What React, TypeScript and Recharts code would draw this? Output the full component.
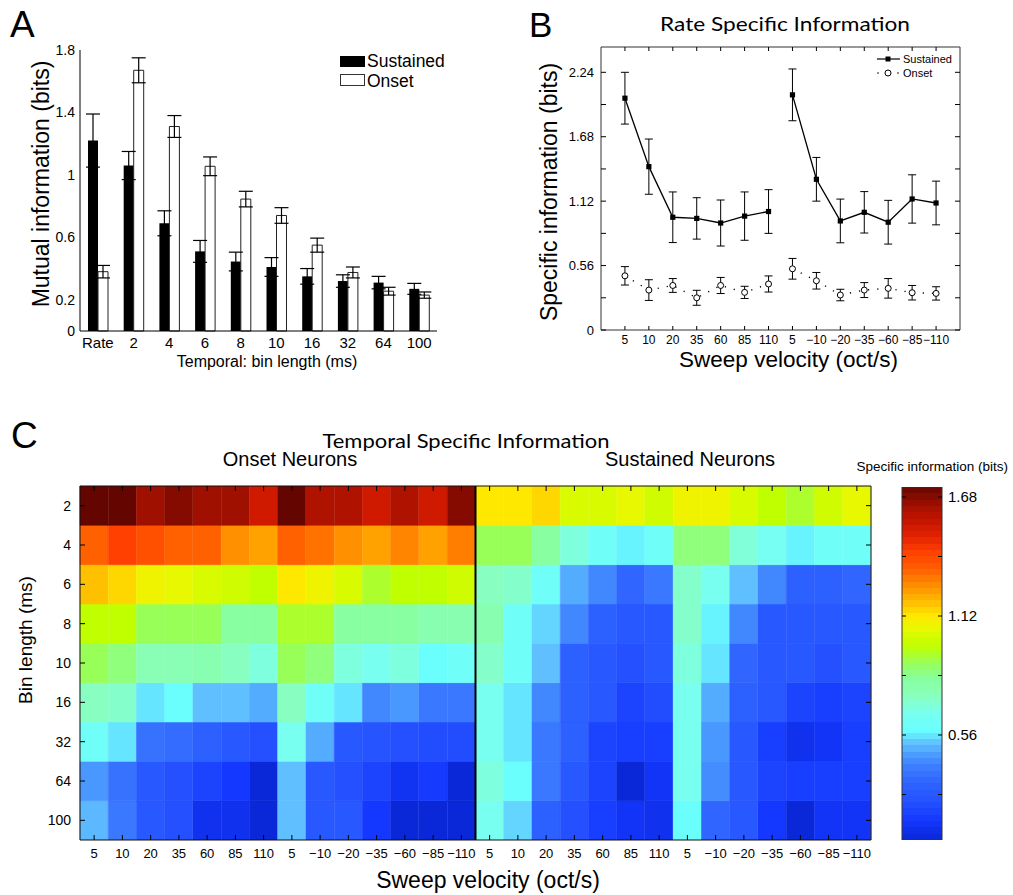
import React from 'react';
import {
  BarChart, Bar, XAxis, YAxis, ErrorBar, LineChart, Line,
  ReferenceArea, ReferenceLine, Cell,
} from 'recharts';

const FONT = '"Liberation Sans", Arial, Helvetica, sans-serif';
const TITLE_FONT = 'Lato, "Open Sans", sans-serif';

// ---------------- Panel A: mutual information ----------------
const binCategories = ['Rate', '2', '4', '6', '8', '10', '16', '32', '64', '100'];
const miSustained = [1.22, 1.06, 0.69, 0.51, 0.445, 0.41, 0.35, 0.32, 0.31, 0.27];
const miSustainedErr = [0.17, 0.09, 0.08, 0.07, 0.06, 0.06, 0.05, 0.04, 0.04, 0.035];
const miOnset = [0.38, 1.67, 1.31, 1.055, 0.845, 0.74, 0.55, 0.375, 0.255, 0.23];
const miOnsetErr = [0.04, 0.08, 0.07, 0.06, 0.05, 0.05, 0.045, 0.035, 0.025, 0.02];
const miTicks = [0, 0.2, 0.6, 1, 1.4, 1.8];
const miDomain = [0, 1.8];

// ---------------- Panel B: rate specific information ----------------
const velocityLabels = ['5', '10', '20', '35', '60', '85', '110', '5', '−10', '−20', '−35', '−60', '−85', '−110'];
const siSustained = [2.015, 1.42, 0.98, 0.97, 0.93, 0.99, 1.03, 2.044, 1.31, 0.948, 1.023, 0.937, 1.139, 1.104];
const siSustainedErr = [0.225, 0.24, 0.22, 0.18, 0.2, 0.21, 0.19, 0.225, 0.19, 0.19, 0.18, 0.19, 0.21, 0.19];
const siOnset = [0.471, 0.347, 0.387, 0.28, 0.387, 0.327, 0.4, 0.532, 0.428, 0.304, 0.347, 0.362, 0.324, 0.318];
const siOnsetErr = [0.08, 0.09, 0.06, 0.065, 0.07, 0.053, 0.07, 0.09, 0.072, 0.05, 0.065, 0.085, 0.063, 0.058];
const siTicks = [0, 0.28, 0.56, 0.84, 1.12, 1.4, 1.68, 1.96, 2.24];
const siLabeledTicks = [0, 0.56, 1.12, 1.68, 2.24];
const siDomain = [0, 2.46];

// ---------------- Panel C: temporal specific information heatmap ----------------
const heatRows = ['2', '4', '6', '8', '10', '16', '32', '64', '100'];
const onsetHeat = [
  [1.73, 1.73, 1.64, 1.68, 1.64, 1.64, 1.54, 1.73, 1.61, 1.61, 1.54, 1.61, 1.54, 1.68],
  [1.34, 1.42, 1.38, 1.34, 1.34, 1.26, 1.23, 1.34, 1.31, 1.26, 1.23, 1.28, 1.23, 1.29],
  [1.18, 1.145, 1.08, 1.06, 1.03, 1.01, 0.98, 1.12, 1.08, 1.03, 0.94, 0.98, 0.98, 1.01],
  [0.98, 0.98, 0.9, 0.9, 0.9, 0.82, 0.82, 0.94, 0.94, 0.82, 0.82, 0.82, 0.78, 0.78],
  [0.9, 0.86, 0.77, 0.77, 0.78, 0.74, 0.69, 0.9, 0.86, 0.69, 0.66, 0.69, 0.59, 0.62],
  [0.74, 0.72, 0.555, 0.59, 0.52, 0.52, 0.49, 0.74, 0.62, 0.555, 0.43, 0.46, 0.4, 0.4],
  [0.62, 0.555, 0.38, 0.36, 0.32, 0.28, 0.24, 0.66, 0.49, 0.28, 0.26, 0.24, 0.23, 0.23],
  [0.46, 0.38, 0.28, 0.24, 0.2, 0.16, 0.07, 0.52, 0.28, 0.24, 0.2, 0.13, 0.17, 0.07],
  [0.51, 0.4, 0.28, 0.24, 0.12, 0.12, 0.07, 0.52, 0.28, 0.28, 0.16, 0.07, 0.07, 0.07],
];
const sustainedHeat = [
  [1.12, 1.12, 1.145, 1.03, 1.03, 1.06, 1.01, 1.08, 1.08, 1.03, 0.98, 0.94, 1.01, 1.06],
  [0.9, 0.9, 0.82, 0.69, 0.62, 0.57, 0.62, 0.86, 0.86, 0.7, 0.65, 0.57, 0.62, 0.62],
  [0.74, 0.72, 0.62, 0.49, 0.43, 0.34, 0.4, 0.72, 0.66, 0.52, 0.43, 0.32, 0.32, 0.34],
  [0.78, 0.62, 0.54, 0.43, 0.32, 0.28, 0.28, 0.72, 0.57, 0.43, 0.28, 0.28, 0.28, 0.28],
  [0.72, 0.62, 0.52, 0.32, 0.28, 0.24, 0.28, 0.69, 0.555, 0.34, 0.28, 0.28, 0.24, 0.28],
  [0.66, 0.555, 0.43, 0.32, 0.28, 0.2, 0.23, 0.66, 0.49, 0.32, 0.28, 0.2, 0.18, 0.2],
  [0.66, 0.555, 0.4, 0.32, 0.2, 0.18, 0.18, 0.66, 0.46, 0.28, 0.18, 0.12, 0.14, 0.18],
  [0.69, 0.59, 0.4, 0.28, 0.2, 0.07, 0.14, 0.66, 0.44, 0.28, 0.2, 0.18, 0.18, 0.18],
  [0.66, 0.54, 0.32, 0.24, 0.18, 0.14, 0.12, 0.59, 0.34, 0.28, 0.16, 0.07, 0.14, 0.14],
];
const colorbarRange = [0.066, 1.727];
const colorbarTicks = [0.28, 0.56, 0.84, 1.12, 1.4, 1.68];
const colorbarLabeled = [0.56, 1.12, 1.68];

// colormap anchors (value -> colour)
const cmapAnchors: [number, string][] = [
  [0.07, '#0a28d8'], [0.16, '#1438ff'], [0.24, '#2450ff'], [0.32, '#2c60ff'],
  [0.4, '#3a78ff'], [0.46, '#4898ff'], [0.52, '#60c0ff'], [0.58, '#68ffff'],
  [0.66, '#78fff0'], [0.74, '#88ffc0'], [0.82, '#88ffa0'], [0.9, '#98ff58'],
  [0.98, '#c0ff00'], [1.06, '#e8f800'], [1.12, '#ffe800'], [1.18, '#ffc000'],
  [1.26, '#ff9000'], [1.34, '#ff6000'], [1.42, '#ff4000'], [1.5, '#e02000'],
  [1.58, '#c01400'], [1.64, '#a01000'], [1.73, '#640500'],
];

function hexRgb(h: string) {
  return [parseInt(h.slice(1, 3), 16), parseInt(h.slice(3, 5), 16), parseInt(h.slice(5, 7), 16)];
}
function heatColor(v: number): string {
  const a = cmapAnchors;
  if (v <= a[0][0]) return a[0][1];
  if (v >= a[a.length - 1][0]) return a[a.length - 1][1];
  for (let i = 0; i < a.length - 1; i++) {
    const [v0, c0] = a[i];
    const [v1, c1] = a[i + 1];
    if (v >= v0 && v <= v1) {
      const t = (v - v0) / (v1 - v0);
      const p = hexRgb(c0);
      const q = hexRgb(c1);
      const r = p.map((x, j) => Math.round(x + (q[j] - x) * t));
      return `rgb(${r[0]},${r[1]},${r[2]})`;
    }
  }
  return '#000';
}

// ---------------- layout constants ----------------
const B_W = 513, B_H = 380;
const B_MARGIN = { top: 47, right: 53, bottom: 25, left: 0 };
const B_YAXIS_W = 101, B_XAXIS_H = 25;
const B_PLOT_W = B_W - B_MARGIN.left - B_MARGIN.right - B_YAXIS_W;
const B_PLOT_H = B_H - B_MARGIN.top - B_MARGIN.bottom - B_XAXIS_H;

const C_W = 890, C_H = 455;
const C_MARGIN = { top: 46, right: 19, bottom: 25, left: 0 };
const C_YAXIS_W = 80, C_XAXIS_H = 30;
const C_PLOT_W = C_W - C_MARGIN.left - C_MARGIN.right - C_YAXIS_W;
const C_PLOT_H = C_H - C_MARGIN.top - C_MARGIN.bottom - C_XAXIS_H;

// ---------------- derived tables ----------------
const dataA = binCategories.map((c, i) => ({
  cat: c, sus: miSustained[i], susE: miSustainedErr[i], ons: miOnset[i], onsE: miOnsetErr[i],
}));
const velIdx = velocityLabels.map((_, i) => i);
const seg = (vals: number[], errs: number[], from: number, to: number) =>
  vals.slice(from, to).map((v, j) => ({ x: from + j, v, e: errs[from + j] }));
const sustA = seg(siSustained, siSustainedErr, 0, 7);
const sustB = seg(siSustained, siSustainedErr, 7, 14);
const onsA = seg(siOnset, siOnsetErr, 0, 7);
const onsB = seg(siOnset, siOnsetErr, 7, 14);

const heatColLabels = [...velocityLabels, ...velocityLabels];
const heatData = heatColLabels.map((_, c) => {
  const o: any = { col: c };
  heatRows.forEach((__, k) => { o['r' + k] = 1; });
  return o;
});
const heatValue = (k: number, c: number) => (c < 14 ? onsetHeat[k][c] : sustainedHeat[k][c - 14]);
const rowCenters = heatRows.map((_, i) => i + 0.5);
const cbData = [{ c: 'cb', v: colorbarRange }];
const CB_STEPS = 56;
const cbStops: React.ReactNode[] = [];
for (let i = 0; i < CB_STEPS; i++) {
  const v = colorbarRange[1] - ((i + 0.5) * (colorbarRange[1] - colorbarRange[0])) / CB_STEPS;
  const col = heatColor(v);
  cbStops.push(<stop key={`a${i}`} offset={`${(i / CB_STEPS) * 100}%`} stopColor={col} />);
  cbStops.push(<stop key={`b${i}`} offset={`${((i + 1) / CB_STEPS) * 100}%`} stopColor={col} />);
}

// ---------------- inward tick renderers (optionally mirrored on the opposite side) ----------------
const leftTick = (m: number, len: number, size: number, fmt: (v: any) => string, across = 0) => (p: any) => {
  const label = fmt(p.payload.value);
  const x0 = p.x + m;
  return (
    <g>
      <line x1={x0} x2={x0 + len} y1={p.y} y2={p.y} stroke="#000" strokeWidth={1} />
      {across ? <line x1={x0 + across} x2={x0 + across - len} y1={p.y} y2={p.y} stroke="#000" strokeWidth={1} /> : null}
      {label ? (
        <text x={p.x} y={p.y} dy="0.355em" textAnchor="end" fontSize={size} fontFamily={FONT} fill="#000">{label}</text>
      ) : null}
    </g>
  );
};
const rightTick = (m: number, len: number, size: number, fmt: (v: any) => string) => (p: any) => {
  const label = fmt(p.payload.value);
  return (
    <g>
      <line x1={p.x - m} x2={p.x - m - len} y1={p.y} y2={p.y} stroke="#000" strokeWidth={1} />
      {label ? (
        <text x={p.x} y={p.y} dy="0.355em" textAnchor="start" fontSize={size} fontFamily={FONT} fill="#000">{label}</text>
      ) : null}
    </g>
  );
};
const bottomTick = (m: number, len: number, size: number, fmt: (v: any) => string, across = 0) => (p: any) => {
  const label = fmt(p.payload.value);
  const y0 = p.y - m;
  return (
    <g>
      <line x1={p.x} x2={p.x} y1={y0} y2={y0 - len} stroke="#000" strokeWidth={1} />
      {across ? <line x1={p.x} x2={p.x} y1={y0 - across} y2={y0 - across + len} stroke="#000" strokeWidth={1} /> : null}
      {label ? (
        <text x={p.x} y={p.y} dy="0.355em" textAnchor="middle" fontSize={size} fontFamily={FONT} fill="#000">{label}</text>
      ) : null}
    </g>
  );
};
const fmtSi = (v: number) => (siLabeledTicks.some((t) => Math.abs(t - v) < 1e-6) ? String(v) : '');
const fmtCb = (v: number) => (colorbarLabeled.some((t) => Math.abs(t - v) < 1e-6) ? v.toFixed(2) : '');

const squareDot = (p: any) => (
  <rect key={`sq-${p.index}-${p.cx}`} x={p.cx - 2.6} y={p.cy - 2.6} width={5.2} height={5.2} fill="#000" />
);
const circleDot = (p: any) => (
  <circle key={`ci-${p.index}-${p.cx}`} cx={p.cx} cy={p.cy} r={3} fill="#fff" stroke="#000" strokeWidth={1} />
);

export default function App() {
  return (
    <div style={{ position: 'absolute', left: 0, top: 0, width: 1013, height: 895, background: '#fff', overflow: 'hidden' }}>
      {/* Panel A */}
      <div style={{ position: 'absolute', left: 0, top: 0 }}>
        <BarChart width={460} height={380} data={dataA} margin={{ top: 50, right: 23, bottom: 19, left: 0 }} barGap={0}>
          <Bar dataKey="sus" fill="#000" barSize={10} isAnimationActive={false}>
            <ErrorBar dataKey="susE" width={7} stroke="#000" strokeWidth={1.2} direction="y" />
          </Bar>
          <Bar dataKey="ons" fill="#fff" stroke="#222" strokeWidth={1} barSize={10} isAnimationActive={false}>
            <ErrorBar dataKey="onsE" width={7} stroke="#000" strokeWidth={1.2} direction="y" />
          </Bar>
          <XAxis dataKey="cat" interval={0} height={30} tickSize={0} tickMargin={6} tickLine={false}
            axisLine={{ stroke: '#000' }} tick={{ fontSize: 15, fill: '#000', fontFamily: FONT }} />
          <YAxis type="number" domain={miDomain} ticks={miTicks} width={80} tickSize={0} tickMargin={5} tickLine={false}
            axisLine={{ stroke: '#000' }} tick={{ fontSize: 14, fill: '#000', fontFamily: FONT }} />
        </BarChart>
      </div>

      {/* Panel B */}
      <div style={{ position: 'absolute', left: 500, top: 0 }}>
        <LineChart width={B_W} height={B_H} margin={B_MARGIN}>
          <ReferenceArea x1={-1} x2={14} y1={siDomain[0]} y2={siDomain[1]} fill="none" stroke="#333" strokeWidth={1} ifOverflow="visible" />
          <Line data={onsA} dataKey="v" stroke="#000" strokeWidth={1.4} strokeDasharray="1.2 8" dot={circleDot} isAnimationActive={false}>
            <ErrorBar dataKey="e" width={4} stroke="#000" strokeWidth={1} direction="y" />
          </Line>
          <Line data={onsB} dataKey="v" stroke="#000" strokeWidth={1.4} strokeDasharray="1.2 8" dot={circleDot} isAnimationActive={false}>
            <ErrorBar dataKey="e" width={4} stroke="#000" strokeWidth={1} direction="y" />
          </Line>
          <Line data={sustA} dataKey="v" stroke="#000" strokeWidth={1.3} dot={squareDot} isAnimationActive={false}>
            <ErrorBar dataKey="e" width={4} stroke="#000" strokeWidth={1} direction="y" />
          </Line>
          <Line data={sustB} dataKey="v" stroke="#000" strokeWidth={1.3} dot={squareDot} isAnimationActive={false}>
            <ErrorBar dataKey="e" width={4} stroke="#000" strokeWidth={1} direction="y" />
          </Line>
          <XAxis type="number" dataKey="x" domain={[-1, 14]} ticks={velIdx} height={B_XAXIS_H} tickSize={0} tickMargin={10}
            axisLine={false} tickLine={false} allowDataOverflow interval={0}
            tick={bottomTick(10, 4, 12, (v) => velocityLabels[v], B_PLOT_H)} />
          <YAxis type="number" domain={siDomain} ticks={siTicks} width={B_YAXIS_W} tickSize={0} tickMargin={7}
            axisLine={false} tickLine={false} allowDataOverflow interval={0} tick={leftTick(7, 5, 13, fmtSi, B_PLOT_W)} />
        </LineChart>
      </div>

      {/* Panel C heatmap */}
      <div style={{ position: 'absolute', left: 0, top: 440 }}>
        <BarChart width={C_W} height={C_H} data={heatData} margin={C_MARGIN} barCategoryGap={0} barGap={0}>
          {heatRows.map((_, i) => {
            const k = heatRows.length - 1 - i;
            return (
              <Bar key={'r' + k} dataKey={'r' + k} stackId="h" isAnimationActive={false}>
                {heatData.map((d, c) => {
                  const col = heatColor(heatValue(k, c));
                  return <Cell key={`c${k}-${c}`} fill={col} stroke={col} strokeWidth={0.6} />;
                })}
              </Bar>
            );
          })}
          <ReferenceLine x={14} position="start" stroke="#000" strokeWidth={2} />
          <ReferenceLine x={heatData.length - 1} position="end" stroke="#111" strokeWidth={1} />
          <ReferenceLine y={heatRows.length} stroke="#111" strokeWidth={1} />
          <XAxis dataKey="col" type="category" interval={0} height={C_XAXIS_H} tickSize={0} tickMargin={13} tickLine={false}
            axisLine={{ stroke: '#111' }} tick={bottomTick(13, 5, 13, (v) => heatColLabels[v], C_PLOT_H)} />
          <YAxis type="number" domain={[0, heatRows.length]} ticks={rowCenters} width={C_YAXIS_W} tickSize={0} tickMargin={9}
            tickLine={false} axisLine={{ stroke: '#111' }} allowDataOverflow interval={0}
            tick={leftTick(9, 5, 14, (v) => heatRows[heatRows.length - 1 - Math.floor(v)], C_PLOT_W)} />
        </BarChart>
      </div>

      {/* Colour bar */}
      <div style={{ position: 'absolute', left: 890, top: 440 }}>
        <BarChart width={123} height={455} data={cbData} margin={{ top: 47, right: 31, bottom: 55, left: 0 }} barCategoryGap={0}>
          <defs>
            <linearGradient id="jetbar" x1="0" y1="0" x2="0" y2="1">{cbStops}</linearGradient>
          </defs>
          <XAxis dataKey="c" hide />
          <Bar dataKey="v" fill="url(#jetbar)" stroke="#333" strokeWidth={1} isAnimationActive={false} />
          <YAxis type="number" domain={colorbarRange} ticks={colorbarTicks} width={12} tickSize={0} tickMargin={2}
            tickLine={false} axisLine={false} allowDataOverflow interval={0} tick={leftTick(2, 4, 0, () => '')} />
          <YAxis yAxisId="r" orientation="right" type="number" domain={colorbarRange} ticks={colorbarTicks} width={40}
            tickSize={0} tickMargin={6} tickLine={false} axisLine={false} allowDataOverflow interval={0}
            tick={rightTick(6, 4, 15, fmtCb)} />
        </BarChart>
      </div>

      {/* Text overlay: panel letters, titles, axis titles, legends */}
      <svg width={1013} height={895} style={{ position: 'absolute', left: 0, top: 0, pointerEvents: 'none' }}>
        <g fontFamily={FONT} fill="#000">
          <text x={10} y={37} fontSize={37}>A</text>
          <text x={529} y={37} fontSize={35}>B</text>
          <text x={11} y={448} fontSize={37}>C</text>

          <text x={49} y={184} fontSize={23} textAnchor="middle" transform="rotate(-90 49 184)">Mutual information (bits)</text>
          <text x={267} y={367} fontSize={16} textAnchor="middle">Temporal: bin length (ms)</text>
          <rect x={340} y={56} width={25} height={11} fill="#000" />
          <text x={367} y={67} fontSize={17.5}>Sustained</text>
          <rect x={340.5} y={74.5} width={24} height={11} fill="#fff" stroke="#333" strokeWidth={1} />
          <text x={367} y={86.5} fontSize={17.5}>Onset</text>

          <text x={556.5} y={192} fontSize={23} textAnchor="middle" transform="rotate(-90 556.5 192)">Specific information (bits)</text>
          <text x={788.5} y={367} fontSize={22.5} textAnchor="middle">Sweep velocity (oct/s)</text>
          <line x1={877} x2={900} y1={59} y2={59} stroke="#000" strokeWidth={1.2} />
          <rect x={885.5} y={56.5} width={5} height={5} fill="#000" />
          <text x={903} y={63} fontSize={11}>Sustained</text>
          <circle cx={878} cy={73} r={0.8} fill="#000" />
          <circle cx={888} cy={73} r={3} fill="#fff" stroke="#000" strokeWidth={1} />
          <circle cx={898} cy={73} r={0.8} fill="#000" />
          <text x={903} y={77} fontSize={11}>Onset</text>

          <text x={466} y={448} fontSize={20} fontFamily={TITLE_FONT} textAnchor="middle" textLength={287} lengthAdjust="spacingAndGlyphs">Temporal Specific Information</text>
          <text x={785} y={31} fontSize={20} fontFamily={TITLE_FONT} textAnchor="middle" textLength={250} lengthAdjust="spacingAndGlyphs">Rate Specific Information</text>
          <text x={290} y={466} fontSize={20} textAnchor="middle">Onset Neurons</text>
          <text x={690} y={466} fontSize={20} textAnchor="middle">Sustained Neurons</text>
          <text x={1008} y={471} fontSize={13.5} textAnchor="end">Specific information (bits)</text>
          <text x={31.5} y={640} fontSize={19} textAnchor="middle" transform="rotate(-90 31.5 640)">Bin length (ms)</text>
          <text x={488} y={888} fontSize={23} textAnchor="middle">Sweep velocity (oct/s)</text>
        </g>
      </svg>
    </div>
  );
}
